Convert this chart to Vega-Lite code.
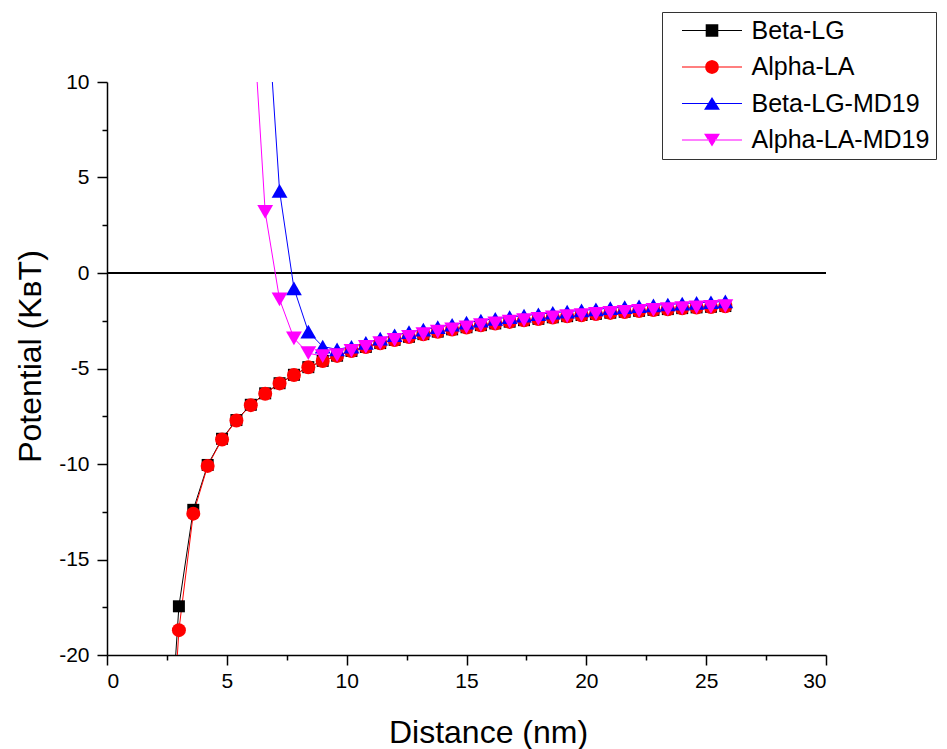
{
  "$schema": "https://vega.github.io/schema/vega-lite/v6.json",
  "width": 719,
  "height": 573,
  "autosize": {"type": "none"},
  "padding": {"left": 107, "top": 82, "right": 121, "bottom": 94},
  "background": "white",
  "config": {
    "view": {"stroke": null},
    "font": "Liberation Sans",
    "axis": {"labelFont": "Liberation Sans", "titleFont": "Liberation Sans", "labelColor": "black", "titleColor": "black", "titleFontWeight": "normal", "grid": false, "domainColor": "black", "tickColor": "black"},
    "legend": {"padding": 6, "strokeColor": "#333333", "strokeWidth": 1, "labelFont": "Liberation Sans", "labelFontSize": 25, "labelColor": "black", "labelLimit": 400, "symbolStrokeWidth": 0, "rowPadding": 10.5, "titlePadding": 0}
  },
  "data": {
    "values": [
      {"s": "Beta-LG", "x": 2.4, "y": -29},
      {"s": "Beta-LG", "x": 3.0, "y": -17.45},
      {"s": "Beta-LG", "x": 3.6, "y": -12.4},
      {"s": "Beta-LG", "x": 4.2, "y": -10.05},
      {"s": "Beta-LG", "x": 4.8, "y": -8.68},
      {"s": "Beta-LG", "x": 5.4, "y": -7.7},
      {"s": "Beta-LG", "x": 6.0, "y": -6.9},
      {"s": "Beta-LG", "x": 6.6, "y": -6.3},
      {"s": "Beta-LG", "x": 7.2, "y": -5.77},
      {"s": "Beta-LG", "x": 7.8, "y": -5.33},
      {"s": "Beta-LG", "x": 8.4, "y": -4.93},
      {"s": "Beta-LG", "x": 9.0, "y": -4.6},
      {"s": "Beta-LG", "x": 9.6, "y": -4.33},
      {"s": "Beta-LG", "x": 10.2, "y": -4.08},
      {"s": "Beta-LG", "x": 10.8, "y": -3.87},
      {"s": "Beta-LG", "x": 11.4, "y": -3.67},
      {"s": "Beta-LG", "x": 12.0, "y": -3.5},
      {"s": "Beta-LG", "x": 12.6, "y": -3.34},
      {"s": "Beta-LG", "x": 13.2, "y": -3.2},
      {"s": "Beta-LG", "x": 13.8, "y": -3.07},
      {"s": "Beta-LG", "x": 14.4, "y": -2.95},
      {"s": "Beta-LG", "x": 15.0, "y": -2.84},
      {"s": "Beta-LG", "x": 15.6, "y": -2.73},
      {"s": "Beta-LG", "x": 16.2, "y": -2.64},
      {"s": "Beta-LG", "x": 16.8, "y": -2.55},
      {"s": "Beta-LG", "x": 17.4, "y": -2.47},
      {"s": "Beta-LG", "x": 18.0, "y": -2.4},
      {"s": "Beta-LG", "x": 18.6, "y": -2.32},
      {"s": "Beta-LG", "x": 19.2, "y": -2.26},
      {"s": "Beta-LG", "x": 19.8, "y": -2.2},
      {"s": "Beta-LG", "x": 20.4, "y": -2.14},
      {"s": "Beta-LG", "x": 21.0, "y": -2.08},
      {"s": "Beta-LG", "x": 21.6, "y": -2.03},
      {"s": "Beta-LG", "x": 22.2, "y": -1.98},
      {"s": "Beta-LG", "x": 22.8, "y": -1.93},
      {"s": "Beta-LG", "x": 23.4, "y": -1.89},
      {"s": "Beta-LG", "x": 24.0, "y": -1.84},
      {"s": "Beta-LG", "x": 24.6, "y": -1.8},
      {"s": "Beta-LG", "x": 25.2, "y": -1.77},
      {"s": "Beta-LG", "x": 25.8, "y": -1.73},
      {"s": "Alpha-LA", "x": 2.4, "y": -31},
      {"s": "Alpha-LA", "x": 3.0, "y": -18.7},
      {"s": "Alpha-LA", "x": 3.6, "y": -12.6},
      {"s": "Alpha-LA", "x": 4.2, "y": -10.1},
      {"s": "Alpha-LA", "x": 4.8, "y": -8.72},
      {"s": "Alpha-LA", "x": 5.4, "y": -7.72},
      {"s": "Alpha-LA", "x": 6.0, "y": -6.92},
      {"s": "Alpha-LA", "x": 6.6, "y": -6.32},
      {"s": "Alpha-LA", "x": 7.2, "y": -5.78},
      {"s": "Alpha-LA", "x": 7.8, "y": -5.34},
      {"s": "Alpha-LA", "x": 8.4, "y": -4.94},
      {"s": "Alpha-LA", "x": 9.0, "y": -4.61},
      {"s": "Alpha-LA", "x": 9.6, "y": -4.34},
      {"s": "Alpha-LA", "x": 10.2, "y": -4.09},
      {"s": "Alpha-LA", "x": 10.8, "y": -3.88},
      {"s": "Alpha-LA", "x": 11.4, "y": -3.68},
      {"s": "Alpha-LA", "x": 12.0, "y": -3.51},
      {"s": "Alpha-LA", "x": 12.6, "y": -3.35},
      {"s": "Alpha-LA", "x": 13.2, "y": -3.21},
      {"s": "Alpha-LA", "x": 13.8, "y": -3.08},
      {"s": "Alpha-LA", "x": 14.4, "y": -2.96},
      {"s": "Alpha-LA", "x": 15.0, "y": -2.85},
      {"s": "Alpha-LA", "x": 15.6, "y": -2.74},
      {"s": "Alpha-LA", "x": 16.2, "y": -2.65},
      {"s": "Alpha-LA", "x": 16.8, "y": -2.56},
      {"s": "Alpha-LA", "x": 17.4, "y": -2.48},
      {"s": "Alpha-LA", "x": 18.0, "y": -2.41},
      {"s": "Alpha-LA", "x": 18.6, "y": -2.33},
      {"s": "Alpha-LA", "x": 19.2, "y": -2.27},
      {"s": "Alpha-LA", "x": 19.8, "y": -2.21},
      {"s": "Alpha-LA", "x": 20.4, "y": -2.15},
      {"s": "Alpha-LA", "x": 21.0, "y": -2.09},
      {"s": "Alpha-LA", "x": 21.6, "y": -2.04},
      {"s": "Alpha-LA", "x": 22.2, "y": -1.99},
      {"s": "Alpha-LA", "x": 22.8, "y": -1.94},
      {"s": "Alpha-LA", "x": 23.4, "y": -1.9},
      {"s": "Alpha-LA", "x": 24.0, "y": -1.85},
      {"s": "Alpha-LA", "x": 24.6, "y": -1.81},
      {"s": "Alpha-LA", "x": 25.2, "y": -1.78},
      {"s": "Alpha-LA", "x": 25.8, "y": -1.74},
      {"s": "Beta-LG-MD19", "x": 6.6, "y": 15.7},
      {"s": "Beta-LG-MD19", "x": 7.2, "y": 4.3},
      {"s": "Beta-LG-MD19", "x": 7.8, "y": -0.8},
      {"s": "Beta-LG-MD19", "x": 8.4, "y": -3.07},
      {"s": "Beta-LG-MD19", "x": 9.0, "y": -3.85},
      {"s": "Beta-LG-MD19", "x": 9.6, "y": -4.0},
      {"s": "Beta-LG-MD19", "x": 10.2, "y": -3.86},
      {"s": "Beta-LG-MD19", "x": 10.8, "y": -3.66},
      {"s": "Beta-LG-MD19", "x": 11.4, "y": -3.44},
      {"s": "Beta-LG-MD19", "x": 12.0, "y": -3.26},
      {"s": "Beta-LG-MD19", "x": 12.6, "y": -3.1},
      {"s": "Beta-LG-MD19", "x": 13.2, "y": -2.96},
      {"s": "Beta-LG-MD19", "x": 13.8, "y": -2.83},
      {"s": "Beta-LG-MD19", "x": 14.4, "y": -2.71},
      {"s": "Beta-LG-MD19", "x": 15.0, "y": -2.6},
      {"s": "Beta-LG-MD19", "x": 15.6, "y": -2.49},
      {"s": "Beta-LG-MD19", "x": 16.2, "y": -2.4},
      {"s": "Beta-LG-MD19", "x": 16.8, "y": -2.31},
      {"s": "Beta-LG-MD19", "x": 17.4, "y": -2.23},
      {"s": "Beta-LG-MD19", "x": 18.0, "y": -2.16},
      {"s": "Beta-LG-MD19", "x": 18.6, "y": -2.08},
      {"s": "Beta-LG-MD19", "x": 19.2, "y": -2.02},
      {"s": "Beta-LG-MD19", "x": 19.8, "y": -1.96},
      {"s": "Beta-LG-MD19", "x": 20.4, "y": -1.9},
      {"s": "Beta-LG-MD19", "x": 21.0, "y": -1.84},
      {"s": "Beta-LG-MD19", "x": 21.6, "y": -1.79},
      {"s": "Beta-LG-MD19", "x": 22.2, "y": -1.74},
      {"s": "Beta-LG-MD19", "x": 22.8, "y": -1.69},
      {"s": "Beta-LG-MD19", "x": 23.4, "y": -1.65},
      {"s": "Beta-LG-MD19", "x": 24.0, "y": -1.6},
      {"s": "Beta-LG-MD19", "x": 24.6, "y": -1.56},
      {"s": "Beta-LG-MD19", "x": 25.2, "y": -1.53},
      {"s": "Beta-LG-MD19", "x": 25.8, "y": -1.49},
      {"s": "Alpha-LA-MD19", "x": 6.0, "y": 15.4},
      {"s": "Alpha-LA-MD19", "x": 6.6, "y": 3.2},
      {"s": "Alpha-LA-MD19", "x": 7.2, "y": -1.38},
      {"s": "Alpha-LA-MD19", "x": 7.8, "y": -3.42},
      {"s": "Alpha-LA-MD19", "x": 8.4, "y": -4.2},
      {"s": "Alpha-LA-MD19", "x": 9.0, "y": -4.35},
      {"s": "Alpha-LA-MD19", "x": 9.6, "y": -4.3},
      {"s": "Alpha-LA-MD19", "x": 10.2, "y": -4.08},
      {"s": "Alpha-LA-MD19", "x": 10.8, "y": -3.87},
      {"s": "Alpha-LA-MD19", "x": 11.4, "y": -3.67},
      {"s": "Alpha-LA-MD19", "x": 12.0, "y": -3.5},
      {"s": "Alpha-LA-MD19", "x": 12.6, "y": -3.34},
      {"s": "Alpha-LA-MD19", "x": 13.2, "y": -3.2},
      {"s": "Alpha-LA-MD19", "x": 13.8, "y": -3.07},
      {"s": "Alpha-LA-MD19", "x": 14.4, "y": -2.95},
      {"s": "Alpha-LA-MD19", "x": 15.0, "y": -2.84},
      {"s": "Alpha-LA-MD19", "x": 15.6, "y": -2.73},
      {"s": "Alpha-LA-MD19", "x": 16.2, "y": -2.64},
      {"s": "Alpha-LA-MD19", "x": 16.8, "y": -2.55},
      {"s": "Alpha-LA-MD19", "x": 17.4, "y": -2.47},
      {"s": "Alpha-LA-MD19", "x": 18.0, "y": -2.4},
      {"s": "Alpha-LA-MD19", "x": 18.6, "y": -2.32},
      {"s": "Alpha-LA-MD19", "x": 19.2, "y": -2.26},
      {"s": "Alpha-LA-MD19", "x": 19.8, "y": -2.2},
      {"s": "Alpha-LA-MD19", "x": 20.4, "y": -2.14},
      {"s": "Alpha-LA-MD19", "x": 21.0, "y": -2.08},
      {"s": "Alpha-LA-MD19", "x": 21.6, "y": -2.03},
      {"s": "Alpha-LA-MD19", "x": 22.2, "y": -1.98},
      {"s": "Alpha-LA-MD19", "x": 22.8, "y": -1.93},
      {"s": "Alpha-LA-MD19", "x": 23.4, "y": -1.89},
      {"s": "Alpha-LA-MD19", "x": 24.0, "y": -1.84},
      {"s": "Alpha-LA-MD19", "x": 24.6, "y": -1.8},
      {"s": "Alpha-LA-MD19", "x": 25.2, "y": -1.77},
      {"s": "Alpha-LA-MD19", "x": 25.8, "y": -1.73}
    ]
  },
  "layer": [
    {
      "mark": {"type": "rule", "color": "black", "strokeWidth": 2},
      "encoding": {
        "y": {"datum": 0, "type": "quantitative", "scale": {"domain": [-20, 10], "nice": false, "zero": false},
          "axis": {"orient": "left", "values": [-17.5, -12.5, -7.5, -2.5, 2.5, 7.5], "labels": false, "domain": false, "tickSize": 5, "tickWidth": 1.5, "title": null}}
      }
    },
    {
      "mark": {"type": "line", "strokeWidth": 1, "clip": true},
      "encoding": {
        "x": {"field": "x", "type": "quantitative", "scale": {"domain": [0, 30], "nice": false, "zero": false},
          "axis": {"orient": "bottom", "values": [0, 5, 10, 15, 20, 25, 30], "tickSize": 10, "tickWidth": 1.5, "domainWidth": 1.5, "labelFontSize": 21, "labelPadding": 5, "labelExpr": "'' + datum.value", "title": "Distance (nm)", "titleFontSize": 32, "titleX": 381, "titleY": 77, "titleBaseline": "middle", "titleAlign": "center"}},
        "y": {"field": "y", "type": "quantitative", "scale": {"domain": [-20, 10], "nice": false, "zero": false},
          "axis": {"orient": "left", "values": [-20, -15, -10, -5, 0, 5, 10], "tickSize": 10, "tickWidth": 1.5, "domainWidth": 1.5, "labelFontSize": 21, "labelPadding": 8, "labelExpr": "'' + datum.value", "title": "Potential (KʙT)", "titleFontSize": 32, "titleX": -77, "titleY": 274, "titleBaseline": "middle", "titleAlign": "center", "titleAngle": -90}},
        "stroke": {"field": "s", "type": "nominal", "scale": {"domain": ["Beta-LG", "Alpha-LA", "Beta-LG-MD19", "Alpha-LA-MD19"], "range": ["#000000", "#ff0000", "#0000ff", "#ff00ff"]},
          "legend": {"title": null, "orient": "none", "legendX": 555, "legendY": -70, "symbolOpacity": 1, "symbolSize": 144, "symbolStrokeWidth": 0, "symbolOffset": 31.5, "labelOffset": 27, "clipHeight": 25}},
        "detail": {"field": "s"}
      }
    },
    {
      "transform": [{"filter": "datum.s == 'Beta-LG'"}],
      "mark": {"type": "point", "filled": true, "shape": "square", "size": 144, "color": "#000000", "clip": true, "opacity": 1},
      "encoding": {"x": {"field": "x", "type": "quantitative", "axis": null}, "y": {"field": "y", "type": "quantitative", "axis": null}}
    },
    {
      "transform": [{"filter": "datum.s == 'Alpha-LA'"}],
      "mark": {"type": "point", "filled": true, "shape": "circle", "size": 196, "color": "#ff0000", "clip": true, "opacity": 1},
      "encoding": {"x": {"field": "x", "type": "quantitative", "axis": null}, "y": {"field": "y", "type": "quantitative", "axis": null}}
    },
    {
      "transform": [{"filter": "datum.s == 'Beta-LG-MD19'"}],
      "mark": {"type": "point", "filled": true, "shape": "triangle-up", "size": 250, "color": "#0000ff", "clip": true, "opacity": 1},
      "encoding": {"x": {"field": "x", "type": "quantitative", "axis": null}, "y": {"field": "y", "type": "quantitative", "axis": null}}
    },
    {
      "transform": [{"filter": "datum.s == 'Alpha-LA-MD19'"}],
      "mark": {"type": "point", "filled": true, "shape": "triangle-down", "size": 250, "color": "#ff00ff", "clip": true, "opacity": 1},
      "encoding": {"x": {"field": "x", "type": "quantitative", "axis": null}, "y": {"field": "y", "type": "quantitative", "axis": null}}
    },
    {
      "mark": {"type": "point", "filled": true, "size": 144, "opacity": 0},
      "encoding": {
        "x": {"field": "x", "type": "quantitative", "axis": {"orient": "bottom", "values": [2.5, 7.5, 12.5, 17.5, 22.5, 27.5], "labels": false, "domain": false, "tickSize": 5, "tickWidth": 1.5, "title": null}},
        "y": {"field": "y", "type": "quantitative", "axis": null},
        "color": {"field": "s", "type": "nominal", "scale": {"domain": ["Beta-LG", "Alpha-LA", "Beta-LG-MD19", "Alpha-LA-MD19"], "range": ["#000000", "#ff0000", "#0000ff", "#ff00ff"]},
          "legend": {"title": null, "orient": "none", "legendX": 555, "legendY": -70, "symbolOpacity": 1, "symbolSize": 144, "symbolStrokeWidth": 0, "symbolOffset": 31.5, "labelOffset": 27, "clipHeight": 25}},
        "shape": {"field": "s", "type": "nominal", "scale": {"domain": ["Beta-LG", "Alpha-LA", "Beta-LG-MD19", "Alpha-LA-MD19"], "range": [
          "M-5,-0.09H-1.05V0.09H-5ZM1.05,-0.09H5V0.09H1.05ZM-1.05,-1.05H1.05V1.05H-1.05Z",
          "M-5,-0.09H-1.15V0.09H-5ZM1.15,-0.09H5V0.09H1.15ZM1.15,0L1.062,0.44L0.813,0.813L0.44,1.062L0,1.15L-0.44,1.062L-0.813,0.813L-1.062,0.44L-1.15,0L-1.062,-0.44L-0.813,-0.813L-0.44,-1.062L0,-1.15L0.44,-1.062L0.813,-0.813L1.062,-0.44Z",
          "M-5,-0.09H-0.6V0.09H-5ZM0.6,-0.09H5V0.09H0.6ZM0,-1.1L1.33,1.05L-1.33,1.05Z",
          "M-5,-0.09H-0.6V0.09H-5ZM0.6,-0.09H5V0.09H0.6ZM0,1.1L1.33,-1.05L-1.33,-1.05Z"]},
          "legend": {"title": null, "orient": "none", "legendX": 555, "legendY": -70, "symbolOpacity": 1, "symbolSize": 144, "symbolStrokeWidth": 0, "symbolOffset": 31.5, "labelOffset": 27, "clipHeight": 25}}
      }
    }
  ],
  "resolve": {
    "axis": {"x": "independent", "y": "independent"}
  }
}
